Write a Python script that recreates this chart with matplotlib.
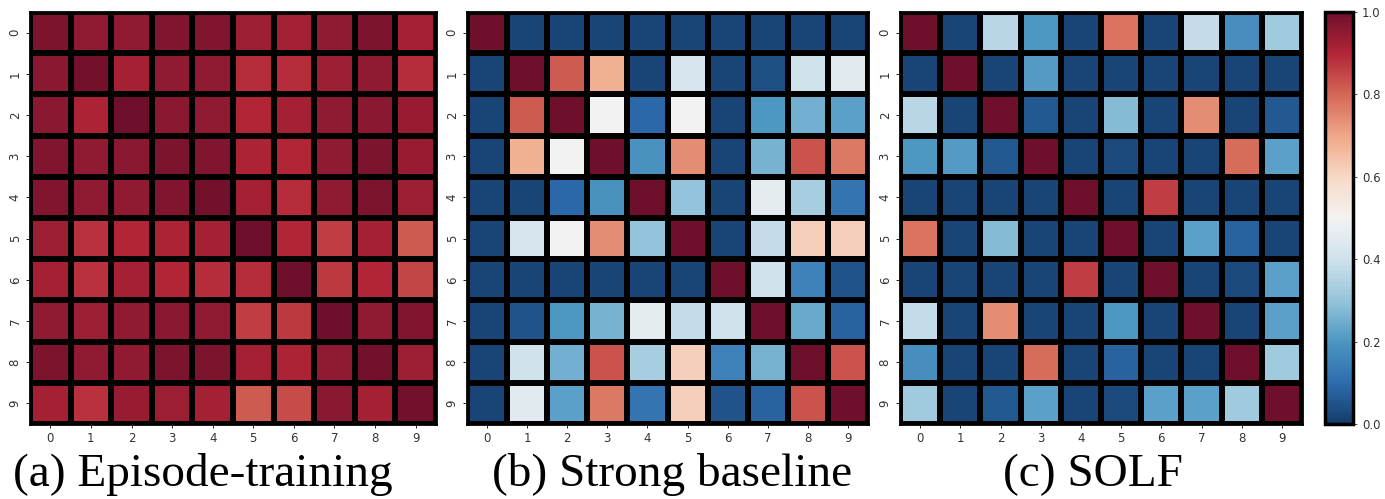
"""
Class-similarity heatmaps for three training setups, with a shared colorbar.

Output:
    out.png
"""

import matplotlib.pyplot as plt
import numpy as np
from matplotlib.colors import ListedColormap


CLASSES = [str(i) for i in range(10)]
CAPTIONS = ["(a) Episode-training", "(b) Strong baseline", "(c) SOLF"]
CBAR_TICKS = [0.0, 0.2, 0.4, 0.6, 0.8, 1.0]

EPISODE = [
    [0.98, 0.95, 0.95, 0.97, 0.97, 0.93, 0.92, 0.95, 0.98, 0.92],
    [0.96, 0.99, 0.92, 0.95, 0.95, 0.89, 0.89, 0.93, 0.95, 0.89],
    [0.96, 0.91, 1.00, 0.96, 0.95, 0.90, 0.92, 0.95, 0.96, 0.94],
    [0.97, 0.95, 0.96, 0.98, 0.97, 0.91, 0.90, 0.95, 0.98, 0.94],
    [0.97, 0.95, 0.95, 0.97, 0.99, 0.92, 0.89, 0.95, 0.98, 0.93],
    [0.93, 0.88, 0.90, 0.91, 0.92, 1.00, 0.90, 0.86, 0.92, 0.82],
    [0.92, 0.88, 0.92, 0.90, 0.89, 0.89, 1.00, 0.87, 0.90, 0.85],
    [0.95, 0.93, 0.95, 0.96, 0.95, 0.86, 0.87, 1.00, 0.95, 0.97],
    [0.98, 0.95, 0.95, 0.98, 0.98, 0.92, 0.91, 0.95, 0.99, 0.93],
    [0.92, 0.88, 0.94, 0.93, 0.92, 0.82, 0.84, 0.96, 0.92, 0.99],
]

BASELINE = [
    [1.00, 0.02, 0.02, 0.02, 0.02, 0.02, 0.02, 0.02, 0.02, 0.02],
    [0.02, 1.00, 0.82, 0.68, 0.02, 0.42, 0.02, 0.04, 0.40, 0.45],
    [0.02, 0.82, 1.00, 0.50, 0.09, 0.50, 0.02, 0.20, 0.25, 0.22],
    [0.02, 0.68, 0.50, 1.00, 0.19, 0.74, 0.02, 0.26, 0.83, 0.77],
    [0.02, 0.02, 0.09, 0.19, 1.00, 0.30, 0.02, 0.46, 0.33, 0.12],
    [0.02, 0.42, 0.50, 0.74, 0.30, 1.00, 0.02, 0.38, 0.62, 0.62],
    [0.02, 0.02, 0.02, 0.02, 0.02, 0.02, 1.00, 0.40, 0.15, 0.05],
    [0.02, 0.05, 0.20, 0.26, 0.46, 0.38, 0.40, 1.00, 0.24, 0.08],
    [0.02, 0.40, 0.25, 0.83, 0.33, 0.62, 0.15, 0.26, 1.00, 0.83],
    [0.02, 0.45, 0.22, 0.77, 0.12, 0.62, 0.05, 0.08, 0.83, 1.00],
]

SOLF = [
    [1.00, 0.02, 0.36, 0.20, 0.02, 0.78, 0.02, 0.38, 0.18, 0.32],
    [0.02, 1.00, 0.02, 0.21, 0.02, 0.02, 0.02, 0.02, 0.02, 0.02],
    [0.36, 0.02, 1.00, 0.06, 0.02, 0.28, 0.02, 0.74, 0.02, 0.06],
    [0.20, 0.21, 0.06, 1.00, 0.02, 0.03, 0.02, 0.02, 0.79, 0.22],
    [0.02, 0.02, 0.02, 0.02, 1.00, 0.02, 0.86, 0.02, 0.02, 0.02],
    [0.78, 0.02, 0.28, 0.02, 0.02, 1.00, 0.02, 0.22, 0.08, 0.02],
    [0.02, 0.02, 0.02, 0.02, 0.86, 0.02, 1.00, 0.02, 0.03, 0.22],
    [0.38, 0.02, 0.74, 0.02, 0.02, 0.20, 0.02, 1.00, 0.02, 0.22],
    [0.18, 0.02, 0.02, 0.79, 0.02, 0.08, 0.02, 0.02, 1.00, 0.32],
    [0.32, 0.02, 0.06, 0.22, 0.02, 0.03, 0.22, 0.22, 0.32, 1.00],
]

W, H = 1385, 499
PANELS_PX = [(30, 436), (467, 868), (900, 1302)]
TOP_PX, BOTTOM_PX = 12, 424
CBAR_PX = (1325, 1353)
CAPTION_X_PX = [203, 672, 1093]


def px_rect(x0, x1):
    return [x0 / W, 1 - BOTTOM_PX / H, (x1 - x0) / W, (BOTTOM_PX - TOP_PX) / H]


def muted_rdbu():
    # the scanned figure has slightly lifted blacks, so soften RdBu_r a bit
    rgba = plt.get_cmap("RdBu_r")(np.linspace(0, 1, 256))
    rgba[:, :3] = 0.06 + 0.92 * rgba[:, :3]
    return ListedColormap(rgba)


def draw_heatmap(ax, matrix, cmap):
    data = np.array(matrix)
    mesh = ax.pcolormesh(
        data, cmap=cmap, vmin=0, vmax=1,
        edgecolors="black", linewidth=3.0,
    )
    ax.set_xlim(0, 10)
    ax.set_ylim(10, 0)
    ax.set_aspect("auto")
    centers = np.arange(10) + 0.5
    ax.set_xticks(centers)
    ax.set_xticklabels(CLASSES, fontsize=8.5, color="#333333")
    ax.set_yticks(centers)
    ax.set_yticklabels(CLASSES, fontsize=8.5, color="#333333",
                       rotation=90, va="center")
    ax.tick_params(length=3, width=0.6, pad=3)
    for spine in ax.spines.values():
        spine.set_color("black")
        spine.set_linewidth(2.0)
    return mesh


def main():
    cmap = muted_rdbu()
    fig = plt.figure(figsize=(W / 100, H / 100), dpi=100)
    mesh = None
    for (x0, x1), matrix in zip(PANELS_PX, [EPISODE, BASELINE, SOLF]):
        ax = fig.add_axes(px_rect(x0, x1))
        mesh = draw_heatmap(ax, matrix, cmap)

    cax = fig.add_axes(px_rect(*CBAR_PX))
    cbar = fig.colorbar(mesh, cax=cax, ticks=CBAR_TICKS)
    cbar.ax.tick_params(labelsize=8.5, length=3, width=0.6, colors="#333333")
    cbar.outline.set_linewidth(2.5)
    cbar.outline.set_edgecolor("black")

    for x, caption in zip(CAPTION_X_PX, CAPTIONS):
        fig.text(x / W, 1 - 486 / H, caption, ha="center", va="baseline",
                 fontsize=34, family="Liberation Serif")

    fig.savefig("out.png", dpi=100)
    plt.close(fig)


if __name__ == "__main__":
    main()
